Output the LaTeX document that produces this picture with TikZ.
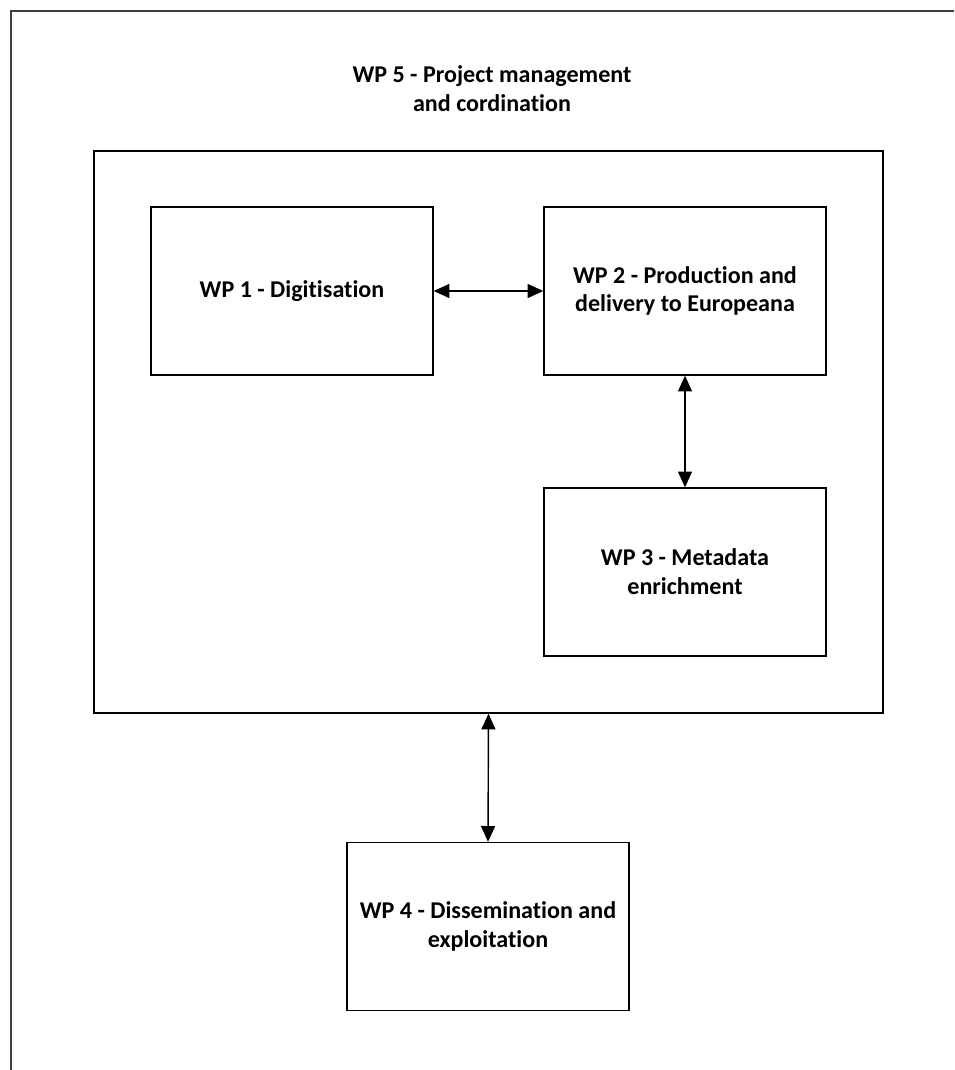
\documentclass[tikz,border=0pt]{standalone}
\usepackage{fontspec}
\setmainfont{Carlito}[Ligatures=NoCommon]
\usetikzlibrary{arrows.meta}

\tikzset{
  wpbox/.style={draw, line width=0.8pt, minimum width=5.64cm, minimum height=3.36cm,
    align=center, inner sep=0pt, font=\bfseries\fontsize{13.7}{16.4}\selectfont},
  wplink/.style={line width=0.8pt, {Triangle[length=9pt,width=8pt]}-{Triangle[length=9pt,width=8pt]}}
}

\begin{document}
\begin{tikzpicture}[x=0.02cm,y=-0.02cm]
\useasboundingbox (0,0) rectangle (954,1070);

% frame
\draw[line width=1.3pt, black!75] (954,11) -- (11,11) -- (11,1070);

% WP 5
\node[align=center, font=\bfseries\fontsize{13.7}{16.4}\selectfont] (wp5) at (492,89)
  {WP 5 - Project management\\and cordination};
\node[draw, line width=0.8pt, minimum width=15.78cm, minimum height=11.24cm] (wpmain) at (488.5,432) {};

% work packages
\node[wpbox] (wp1) at (292,291) {WP 1 - Digitisation};
\node[wpbox] (wp2) at (685,291) {WP 2 - Production and\\delivery to Europeana};
\node[wpbox] (wp3) at (685,572) {WP 3 - Metadata\\enrichment};
\node[wpbox] (wp4) at (488,926.5) {WP 4 - Dissemination and\\exploitation};

% links
\draw[wplink] (wp1) -- (wp2);
\draw[wplink] (wp2) -- (wp3);
\draw[wplink] (wpmain.south) -- (wp4.north);

\end{tikzpicture}
\end{document}
